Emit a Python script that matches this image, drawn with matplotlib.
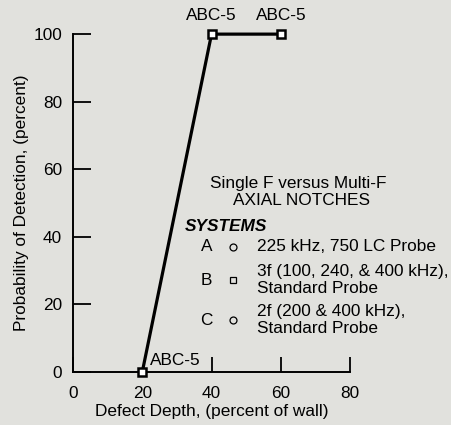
import matplotlib.pyplot as plt

plt.rcParams['font.family'] = ['Liberation Sans', 'DejaVu Sans']

# defect depth (% of wall) vs probability of detection (%)
depth = [20, 40, 60]
pod = [0, 100, 100]
counts = ['ABC-5', 'ABC-5', 'ABC-5']

x_ticks = [0, 20, 40, 60, 80]
y_ticks = [0, 20, 40, 60, 80, 100]

systems = ['A', 'B', 'C']
system_marks = ['o', 's', 'o']
system_desc = ['225 kHz, 750 LC Probe',
               '3f (100, 240, & 400 kHz),\nStandard Probe',
               '2f (200 & 400 kHz),\nStandard Probe']

bg = '#e1e1dd'
fs = 12.4
fig = plt.figure(figsize=(4.52, 4.25), dpi=100, facecolor=bg)
ax = fig.add_axes([0.1615, 0.1247, 0.613, 0.795], facecolor=bg)

ax.plot(depth, pod, color='black', lw=2.3, marker='s', ms=6,
        mfc='white', mec='black', mew=1.8, clip_on=False, zorder=5)

ax.set_xlim(0, 80)
ax.set_ylim(0, 100)
ax.set_xticks(x_ticks)
ax.set_yticks(y_ticks)
for s in ['top', 'right']:
    ax.spines[s].set_visible(False)
for s in ['left', 'bottom']:
    ax.spines[s].set_linewidth(1.4)
ax.tick_params(axis='y', direction='in', length=13, width=1.3, pad=8, labelsize=fs)
ax.tick_params(axis='x', direction='in', length=11, width=1.3, pad=10, labelsize=fs)
# the tick at 20 sits under the first marker
ax.xaxis.get_major_ticks()[1].tick1line.set_visible(False)

ax.set_xlabel('Defect Depth, (percent of wall)', fontsize=fs, labelpad=2)
ax.set_ylabel('Probability of Detection, (percent)', fontsize=fs, labelpad=3)

# count labels beside each point
ax.text(depth[0] + 2.2, pod[0] + 2.1, counts[0], fontsize=fs, ha='left', va='baseline')
for x, y, c in zip(depth[1:], pod[1:], counts[1:]):
    ax.text(x, y + 4.2, c, fontsize=fs, ha='center', va='baseline')

# title block and systems key
ax.text(65, 55.9, 'Single F versus Multi-F', fontsize=fs, ha='center', va='center')
ax.text(66.1, 50.9, 'AXIAL NOTCHES', fontsize=fs, ha='center', va='center')
ax.text(32.3, 43.2, 'SYSTEMS', fontsize=fs, ha='left', va='center',
        style='italic', fontweight='bold')
key_y = [37.0, 27.2, 15.3]
for yk, lab, mk, desc in zip(key_y, systems, system_marks, system_desc):
    ax.text(38.6, yk, lab, fontsize=fs, ha='center', va='center')
    ax.plot([46.3], [yk], marker=mk, ms=5, mfc='none', mec='black', mew=0.9)
    ax.text(53.1, yk, desc, fontsize=fs, ha='left', va='center', linespacing=1.15)

fig.savefig('out.png', dpi=100, facecolor=bg)
